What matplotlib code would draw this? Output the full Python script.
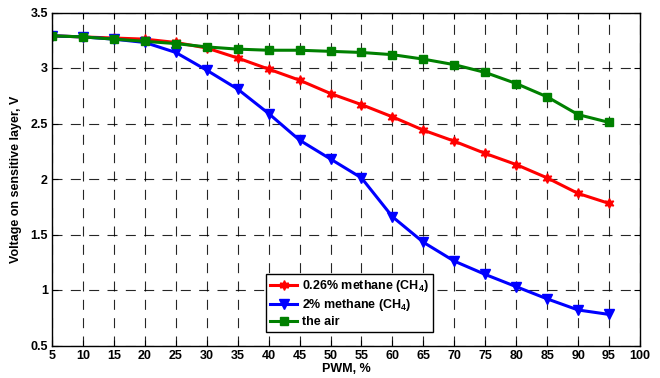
import matplotlib
matplotlib.use("Agg")
import matplotlib.pyplot as plt

pwm = [5, 10, 15, 20, 25, 30, 35, 40, 45, 50, 55, 60, 65, 70, 75, 80, 85, 90, 95]
methane_026 = [3.29, 3.28, 3.27, 3.26, 3.23, 3.18, 3.09, 2.99, 2.89, 2.77, 2.67, 2.56, 2.44, 2.34, 2.23, 2.13, 2.01, 1.87, 1.78]
methane_2 = [3.29, 3.28, 3.26, 3.23, 3.14, 2.98, 2.81, 2.59, 2.35, 2.18, 2.01, 1.66, 1.43, 1.26, 1.14, 1.03, 0.92, 0.82, 0.78]
air = [3.29, 3.28, 3.26, 3.24, 3.22, 3.19, 3.17, 3.16, 3.16, 3.15, 3.14, 3.12, 3.08, 3.03, 2.96, 2.86, 2.74, 2.58, 2.51]

labels = ["0.26% methane (CH$_4$)", "2% methane (CH$_4$)", "the air"]
xticks = list(range(5, 101, 5))
yticks = [0.5, 1, 1.5, 2, 2.5, 3, 3.5]

plt.rcParams['font.family'] = ['Liberation Sans', 'DejaVu Sans']
plt.rcParams['font.weight'] = 'bold'
plt.rcParams['mathtext.default'] = 'regular'

fig = plt.figure(figsize=(6.6, 3.78), dpi=100)
ax = fig.add_axes([52/660, 1-345.5/378, (640-52)/660, (345.5-12.5)/378])

ax.plot(pwm, methane_026, color='red', marker=(6, 1, 0), markersize=7, lw=2.2, label=labels[0])
ax.plot(pwm, methane_2, color='blue', marker='v', markersize=6.5, lw=2.2, label=labels[1])
ax.plot(pwm, air, color='green', marker='s', markersize=5.5, lw=2.2, label=labels[2])

ax.set_xlim(5, 100)
ax.set_ylim(0.5, 3.5)
ax.set_xticks(xticks)
ax.set_yticks(yticks)
ax.set_xticklabels([str(v) for v in xticks])
ax.set_yticklabels(['0.5', '1', '1.5', '2', '2.5', '3', '3.5'])
ax.tick_params(direction='in', top=True, right=True, labelsize=9, length=4, width=0.8, pad=3)
for lbl in ax.get_xticklabels() + ax.get_yticklabels():
    lbl.set_fontweight('bold')
ax.grid(True, color='black', linestyle=(0, (9, 7.5)), linewidth=0.8, alpha=0.85)
for s in ax.spines.values():
    s.set_linewidth(1.0)

ax.set_xlabel('PWM, %', fontsize=9, fontweight='bold', labelpad=1)
ax.set_ylabel('Voltage on sensitive layer, V', fontsize=9, fontweight='bold', labelpad=6)

leg = ax.legend(loc='lower left', bbox_to_anchor=((266-52)/588, (345.5-332)/333), fontsize=9,
                frameon=True, fancybox=False, edgecolor='black', framealpha=1,
                handlelength=2.2, handletextpad=0.4, borderpad=0.3, labelspacing=0.25, borderaxespad=0)
leg.get_frame().set_linewidth(1.0)
for t in leg.get_texts():
    t.set_fontweight('bold')

fig.savefig('out.png', dpi=100)
